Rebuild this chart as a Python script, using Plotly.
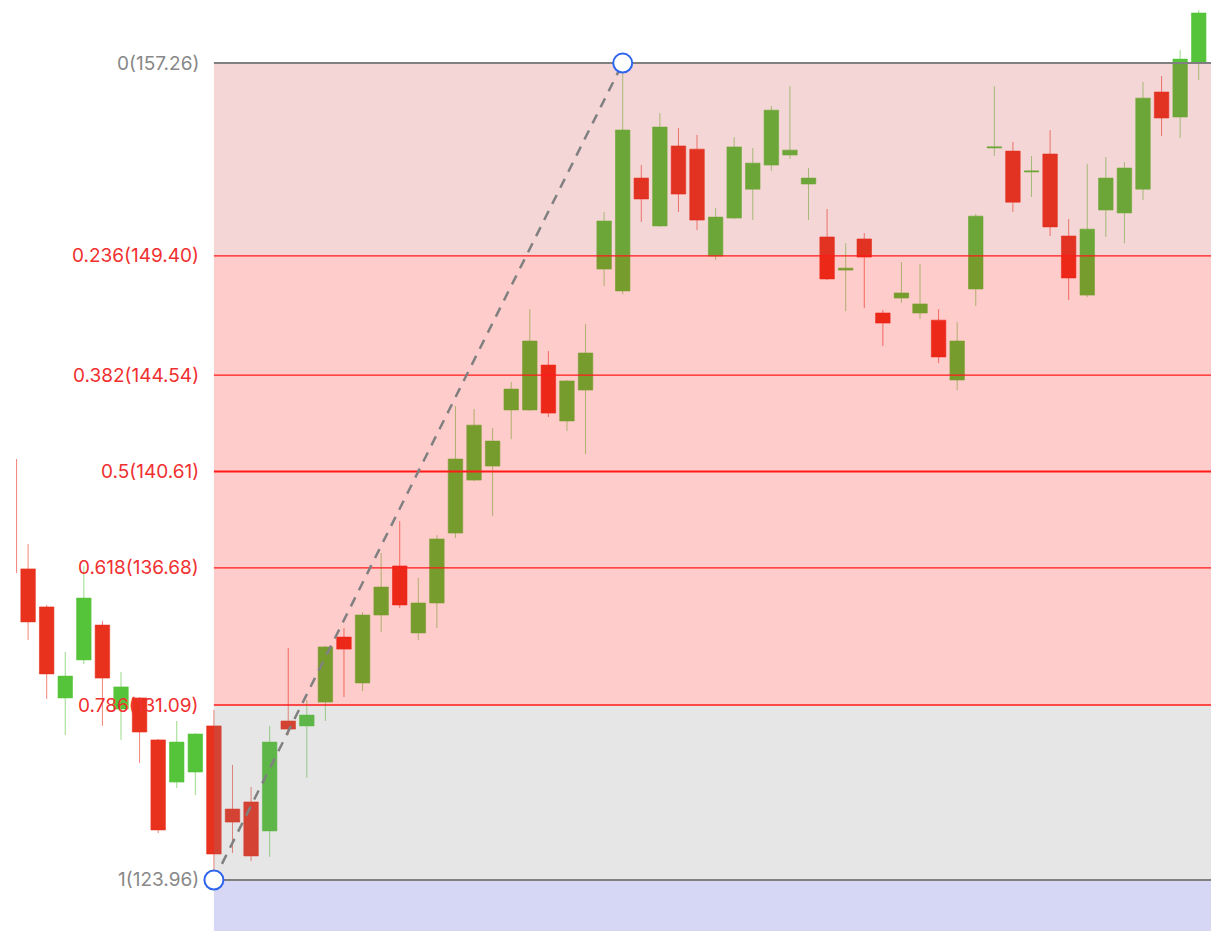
import plotly.graph_objects as go

# candle index along the x axis
candle_idx = list(range(64))

open_ = [136.64, 135.09, 131.38, 132.93, 134.35, 130.93, 131.38, 129.67, 127.95, 128.36,
         130.24, 126.85, 127.14, 125.96, 130.44, 130.24, 131.21, 133.86, 131.99, 134.76,
         136.76, 134.03, 135.25, 138.10, 140.26, 140.83, 143.12, 143.12, 144.95, 142.67,
         143.93, 148.86, 147.97, 152.57, 150.62, 153.88, 153.75, 149.39, 150.94, 152.12,
         153.10, 153.51, 152.33, 150.17, 148.82, 150.09, 147.07, 147.68, 147.07, 146.78,
         144.34, 148.05, 153.80, 153.67, 152.82, 153.55, 150.21, 147.80, 151.27, 151.15,
         152.12, 156.08, 155.06, 157.30]
high = [137.66, 135.17, 133.25, 136.76, 134.52, 132.44, 131.42, 129.71, 130.44, 129.95,
        130.89, 128.65, 127.75, 130.24, 133.42, 131.30, 133.50, 134.23, 134.88, 137.29,
        138.59, 136.27, 138.02, 143.28, 143.16, 142.38, 144.26, 147.23, 145.52, 144.34,
        146.62, 151.19, 157.26, 153.10, 155.22, 154.61, 154.33, 151.35, 154.24, 153.80,
        155.51, 156.32, 152.98, 151.31, 149.92, 150.33, 147.19, 149.15, 149.07, 147.23,
        146.70, 151.11, 156.32, 154.04, 153.47, 154.53, 150.90, 153.14, 153.43, 153.22,
        156.49, 156.73, 157.79, 159.42]
low = [133.74, 131.34, 129.87, 132.76, 130.24, 129.67, 128.73, 125.87, 127.71, 127.42,
       123.96, 125.06, 124.73, 124.90, 129.87, 128.12, 130.44, 131.42, 131.66, 134.07,
       135.05, 133.74, 134.23, 137.90, 140.22, 138.80, 141.93, 143.08, 142.83, 142.26,
       141.32, 148.17, 147.84, 150.78, 150.58, 151.19, 150.45, 149.23, 150.90, 150.86,
       152.86, 153.35, 150.86, 148.42, 147.15, 147.27, 145.73, 147.48, 146.83, 145.03,
       143.93, 147.36, 153.47, 151.19, 151.80, 150.21, 147.60, 147.72, 150.17, 149.92,
       151.68, 154.28, 154.20, 156.57]
close = [134.48, 132.36, 132.27, 135.45, 132.19, 131.83, 129.99, 126.00, 129.58, 129.91,
         125.02, 126.32, 124.94, 129.58, 130.11, 130.68, 133.46, 133.37, 134.76, 135.90,
         135.17, 135.25, 137.86, 141.12, 142.50, 141.85, 143.97, 145.93, 142.99, 144.30,
         145.44, 150.82, 154.53, 151.72, 154.65, 151.92, 150.86, 150.98, 153.84, 153.18,
         155.34, 153.71, 152.57, 148.46, 148.90, 149.35, 146.66, 147.89, 147.44, 145.28,
         145.93, 151.02, 153.84, 151.59, 152.86, 150.58, 148.50, 150.49, 152.57, 152.98,
         155.83, 155.02, 157.42, 159.30]

# a lone wick peeking in at the left edge
stray_x = [-0.62, -0.62]
stray_y = [141.12, 136.47]

# fibonacci retracement
fib_start_idx = 10   # swing low
fib_end_idx = 32     # swing high
fib_levels = ["0", "0.236", "0.382", "0.5", "0.618", "0.786", "1"]
fib_prices = [157.26, 149.40, 144.54, 140.61, 136.68, 131.09, 123.96]
fib_ext_price = 103.38  # 1.618 extension, bottom of last zone

GREEN = '#56c43a'
RED = '#e8321e'

fig = go.Figure()

fig.add_trace(go.Candlestick(
    x=candle_idx, open=open_, high=high, low=low, close=close,
    increasing=dict(fillcolor=GREEN, line=dict(color='rgba(86,196,58,0.6)', width=1)),
    decreasing=dict(fillcolor=RED, line=dict(color='rgba(232,50,30,0.6)', width=1)),
    whiskerwidth=0, showlegend=False, hoverinfo='skip'
))

fig.add_trace(go.Scatter(
    x=stray_x, y=stray_y, mode='lines',
    line=dict(color='rgba(232,50,30,0.6)', width=1),
    showlegend=False, hoverinfo='skip'
))

x_far = candle_idx[-1] + 5

# zones (drawn over the candles, translucent)
zone_colors = ['rgba(204,51,51,0.2)', 'rgba(255,0,0,0.2)', 'rgba(255,0,0,0.2)',
               'rgba(255,0,0,0.2)', 'rgba(255,0,0,0.2)', 'rgba(128,128,128,0.2)']
for i, col in enumerate(zone_colors):
    fig.add_shape(type='rect', xref='x', yref='y', layer='above',
                  x0=fib_start_idx, x1=x_far, y0=fib_prices[i + 1], y1=fib_prices[i],
                  fillcolor=col, line=dict(width=0))
fig.add_shape(type='rect', xref='x', yref='y', layer='above',
              x0=fib_start_idx, x1=x_far, y0=fib_ext_price, y1=fib_prices[-1],
              fillcolor='rgba(51,51,204,0.2)', line=dict(width=0))

# level lines + labels
for lvl, price in zip(fib_levels, fib_prices):
    edge = lvl in ("0", "1")
    line_col = '#808080' if edge else '#ff1a1a'
    width = 2 if edge or lvl == "0.5" else 1.4
    fig.add_shape(type='line', xref='x', yref='y', layer='above',
                  x0=fib_start_idx, x1=x_far, y0=price, y1=price,
                  line=dict(color=line_col, width=width))
    fig.add_annotation(x=fib_start_idx, y=price, xref='x', yref='y',
                       text=f"{lvl}({price:.2f})", showarrow=False,
                       xanchor='right', yanchor='middle', xshift=-13,
                       font=dict(family='Inter, Roboto, sans-serif', size=19,
                                 color='#888888' if edge else '#f03030'))

# trend line between the two anchors
fig.add_shape(type='line', xref='x', yref='y', layer='above',
              x0=fib_start_idx, y0=fib_prices[-1], x1=fib_end_idx, y1=fib_prices[0],
              line=dict(color='#808080', width=2.5, dash='10px,8px'))

for xi, yi in [(fib_start_idx, fib_prices[-1]), (fib_end_idx, fib_prices[0])]:
    fig.add_shape(type='circle', xref='x', yref='y', layer='above',
                  xsizemode='pixel', ysizemode='pixel',
                  xanchor=xi, yanchor=yi, x0=-9.5, x1=9.5, y0=-9.5, y1=9.5,
                  fillcolor='white', line=dict(color='#2e64ee', width=2))

fig.update_layout(
    width=1211, height=931,
    margin=dict(l=0, r=0, t=0, b=0),
    paper_bgcolor='white', plot_bgcolor='white',
    boxgap=0.22, boxgroupgap=0,
    xaxis=dict(range=[-1.512, 63.66], visible=False, rangeslider=dict(visible=False),
               showgrid=False, zeroline=False),
    yaxis=dict(range=[121.88, 159.83], visible=False, showgrid=False, zeroline=False),
)

fig.write_html("out.html", config={'displayModeBar': False},
               post_script="document.body.style.margin='0';document.body.style.overflow='hidden';")
